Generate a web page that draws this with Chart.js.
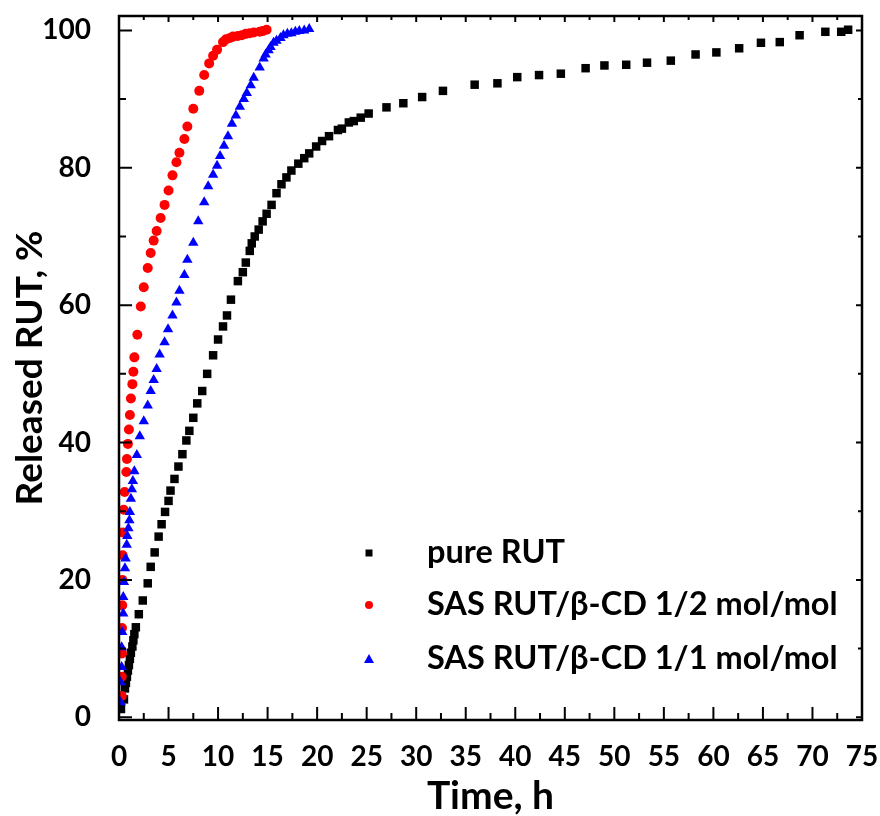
<!DOCTYPE html>
<html>
<head>
<meta charset="utf-8">
<script src="https://cdn.jsdelivr.net/npm/chart.js@4.4.1/dist/chart.umd.min.js"></script>
<style>
  html, body { margin: 0; padding: 0; background: #fff; }
  #wrap { width: 880px; height: 816px; }
</style>
</head>
<body>
<div id="wrap"><canvas id="myChart" width="880" height="816"></canvas></div>
<script>
// release data (time in h, released %)
const pureTime = [0.2, 0.5, 0.6, 0.7, 0.8, 0.9, 1.0, 1.1, 1.2, 1.35, 1.45, 1.55, 1.7, 2.0, 2.4, 2.9, 3.2, 3.6, 4.0, 4.3,
  4.65, 5.0, 5.2, 5.6, 6.0, 6.4, 6.8, 7.1, 7.5, 7.9, 8.4, 8.9, 9.5, 10.0, 10.5, 10.9, 11.3, 12.0, 12.5, 12.8,
  13.2, 13.4, 13.7, 14.1, 14.5, 14.9, 15.4, 15.9, 16.4, 16.9, 17.4, 18.1, 18.7, 19.2, 19.9, 20.5, 21.2, 22.1, 22.5, 23.2,
  23.7, 24.4, 25.2, 27.0, 28.7, 30.6, 32.7, 35.9, 38.2, 40.2, 42.4, 44.6, 47.1, 49.0, 51.2, 53.3, 55.7, 58.2, 60.3, 62.6,
  64.8, 66.7, 68.7, 71.3, 72.9, 73.6];
const pureRel = [1.2, 2.6, 4.2, 5.0, 5.9, 6.8, 7.6, 8.5, 9.4, 10.3, 11.2, 12.1, 13.1, 15.0, 17.0, 19.5, 21.9, 24.0, 26.3, 28.1,
  29.9, 31.5, 33.0, 34.7, 36.5, 38.3, 40.3, 41.7, 43.6, 45.7, 47.5, 50.0, 52.7, 55.0, 56.9, 58.5, 60.8, 63.5, 64.8, 66.2,
  67.9, 69.0, 70.0, 71.0, 72.2, 73.3, 74.6, 76.3, 77.6, 78.6, 79.6, 80.6, 81.4, 82.1, 83.1, 83.9, 84.6, 85.5, 85.7, 86.6,
  86.8, 87.3, 87.9, 88.8, 89.4, 90.3, 91.2, 92.1, 92.3, 93.2, 93.5, 93.7, 94.5, 94.9, 95.0, 95.3, 95.6, 96.5, 96.8, 97.4,
  98.2, 98.3, 99.3, 99.8, 99.8, 100.1];

const sas12Time = [0.28, 0.28, 0.3, 0.3, 0.33, 0.33, 0.37, 0.37, 0.47, 0.57, 0.74, 0.8, 0.9, 1.0, 1.1, 1.2, 1.35, 1.45, 1.55, 1.85,
  2.2, 2.5, 2.9, 3.2, 3.5, 3.8, 4.2, 4.6, 5.0, 5.4, 5.8, 6.1, 6.6, 6.9, 7.5, 8.1, 8.6, 9.1, 9.5, 9.9,
  10.5, 10.8, 11.2, 11.5, 12.0, 12.4, 12.8, 13.2, 13.6, 14.2, 14.5, 14.9];
const sas12Rel = [3.1, 5.9, 9.3, 13.0, 16.3, 20.0, 23.6, 26.9, 30.2, 32.8, 35.7, 37.6, 39.8, 41.9, 44.0, 46.4, 48.5, 50.3, 52.4, 55.7,
  59.8, 62.6, 65.4, 67.6, 69.4, 70.8, 72.7, 74.6, 76.7, 78.9, 80.8, 82.2, 84.2, 86.0, 88.6, 91.2, 93.5, 95.2, 96.3, 97.2,
  98.3, 98.7, 98.9, 99.1, 99.2, 99.3, 99.5, 99.6, 99.7, 99.8, 99.9, 100.1];

const sas11Time = [0.17, 0.17, 0.27, 0.27, 0.33, 0.43, 0.43, 0.5, 0.6, 0.67, 0.78, 0.84, 0.95, 1.05, 1.1, 1.2, 1.3, 1.4, 1.55, 1.8,
  2.1, 2.5, 2.9, 3.2, 3.5, 3.8, 4.1, 4.6, 4.95, 5.4, 5.8, 6.1, 6.6, 6.9, 7.5, 8.0, 8.6, 9.0, 9.5, 9.9,
  10.2, 10.6, 11.0, 11.4, 11.8, 12.2, 12.6, 12.9, 13.3, 13.6, 14.2, 14.6, 14.8, 15.1, 15.3, 15.6, 15.9, 16.3, 16.6, 17.0,
  17.4, 17.8, 18.2, 18.7, 19.2];
const sas11Rel = [2.2, 5.1, 7.3, 10.2, 12.4, 15.1, 17.5, 19.7, 21.7, 23.1, 25.1, 26.4, 27.5, 28.7, 29.9, 31.8, 33.2, 34.4, 35.8, 38.2,
  40.9, 43.1, 45.4, 47.5, 49.1, 50.7, 52.8, 54.6, 56.5, 58.5, 60.4, 62.1, 64.4, 66.6, 69.1, 72.2, 75.0, 77.3, 79.0, 80.3,
  81.7, 83.2, 84.6, 86.4, 87.6, 88.9, 90.0, 90.9, 92.0, 93.1, 94.6, 95.9, 96.5, 97.1, 97.6, 98.2, 98.5, 98.9, 99.3, 99.5,
  99.6, 99.8, 99.9, 100.0, 100.2];

const seriesLabels = ['pure RUT', 'SAS RUT/\u03B2-CD 1/2 mol/mol', 'SAS RUT/\u03B2-CD 1/1 mol/mol'];

const xTicks = [0, 5, 10, 15, 20, 25, 30, 35, 40, 45, 50, 55, 60, 65, 70, 75];
const xMinor = [2.5, 7.5, 12.5, 17.5, 22.5, 27.5, 32.5, 37.5, 42.5, 47.5, 52.5, 57.5, 62.5, 67.5, 72.5];
const yTicks = [0, 20, 40, 60, 80, 100];
const yMinor = [10, 30, 50, 70, 90];

function toPoints(xs, ys) {
  return xs.map((x, i) => ({ x: x, y: ys[i] }));
}

const FONT = 'Lato, "Open Sans", sans-serif';

//frame with inward ticks on all four sides
const framePlugin = {
  id: 'frame',
  afterDraw(chart) {
    const c = chart.ctx;
    const a = chart.chartArea;
    const xs = chart.scales.x, ys = chart.scales.y;
    c.save();
    c.strokeStyle = '#000';
    c.lineWidth = 2.5;
    c.strokeRect(a.left, a.top, a.right - a.left, a.bottom - a.top);
    c.lineWidth = 2;
    c.beginPath();
    function xt(v, len, len2) {
      const p = xs.getPixelForValue(v);
      c.moveTo(p, a.bottom); c.lineTo(p, a.bottom - len);
      c.moveTo(p, a.top); c.lineTo(p, a.top + len2);
    }
    function yt(v, len, len2) {
      const p = ys.getPixelForValue(v);
      c.moveTo(a.left, p); c.lineTo(a.left + len, p);
      c.moveTo(a.right, p); c.lineTo(a.right - len2, p);
    }
    xTicks.forEach(v => xt(v, 13, 6));
    xMinor.forEach(v => xt(v, 7, 4));
    yTicks.forEach(v => yt(v, 13, 6));
    yMinor.forEach(v => yt(v, 7, 4));
    c.stroke();
    c.restore();
  }
};

//legend drawn inside the plot
const legendPlugin = {
  id: 'inLegend',
  afterDraw(chart) {
    const c = chart.ctx;
    const a = chart.chartArea;
    const rows = [a.top + 537, a.top + 589, a.top + 643];
    const mx = a.left + 250;
    const tx = a.left + 308;
    c.save();
    c.font = 'bold 32.5px ' + FONT;
    c.textBaseline = 'middle';
    c.textAlign = 'left';
    chart.data.datasets.forEach((ds, i) => {
      const y = rows[i];
      c.fillStyle = ds.backgroundColor;
      c.beginPath();
      if (ds.pointStyle === 'rect') {
        c.rect(mx - 3.5, y - 3.5, 7, 7);
      } else if (ds.pointStyle === 'circle') {
        c.arc(mx, y, 4, 0, Math.PI * 2);
      } else {
        c.moveTo(mx, y - 5); c.lineTo(mx + 5, y + 4); c.lineTo(mx - 5, y + 4); c.closePath();
      }
      c.fill();
      c.fillStyle = '#000';
      c.fillText(ds.label, tx, y);
    });
    c.restore();
  }
};

const ctx = document.getElementById('myChart');

const myChart = new Chart(ctx, {
  type: 'scatter',
  data: {
    datasets: [
      {
        label: seriesLabels[0],
        data: toPoints(pureTime, pureRel),
        pointStyle: 'rect',
        pointRadius: 6,
        backgroundColor: '#000000',
        borderWidth: 0,
        order: 2
      },
      {
        label: seriesLabels[1],
        data: toPoints(sas12Time, sas12Rel),
        pointStyle: 'circle',
        pointRadius: 5,
        backgroundColor: '#ff0000',
        borderWidth: 0,
        order: 1
      },
      {
        label: seriesLabels[2],
        data: toPoints(sas11Time, sas11Rel),
        pointStyle: 'triangle',
        pointRadius: 6,
        backgroundColor: '#0000ff',
        borderWidth: 0,
        order: 0
      }
    ]
  },
  options: {
    responsive: false,
    animation: false,
    layout: { padding: { left: 0, top: 16, right: 18, bottom: 0 } },
    plugins: {
      legend: { display: false },
      tooltip: { enabled: false }
    },
    scales: {
      x: {
        type: 'linear',
        min: 0,
        max: 75,
        grid: { display: false },
        border: { display: false },
        afterBuildTicks: s => { s.ticks = xTicks.map(v => ({ value: v })); },
        afterFit: s => { s.height = 96; s.paddingLeft = 0; s.paddingRight = 0; },
        ticks: {
          autoSkip: false,
          maxRotation: 0,
          padding: 12,
          color: '#000',
          font: { family: FONT, size: 28, weight: 'bold' }
        },
        title: {
          display: true,
          text: 'Time, h',
          color: '#000',
          padding: { top: 0, bottom: 0 },
          font: { family: FONT, size: 39, weight: 'bold', lineHeight: 1 }
        }
      },
      y: {
        type: 'linear',
        min: -0.4,
        max: 102.1,
        grid: { display: false },
        border: { display: false },
        afterBuildTicks: s => { s.ticks = yTicks.map(v => ({ value: v })); },
        afterFit: s => { s.width = 119; s.paddingTop = 0; s.paddingBottom = 0; },
        ticks: {
          padding: 20,
          color: '#000',
          font: { family: FONT, size: 28, weight: 'bold' }
        },
        title: {
          display: true,
          text: 'Released RUT, %',
          color: '#000',
          padding: { top: 12, bottom: 0 },
          font: { family: FONT, size: 37, weight: 'bold', lineHeight: 1 }
        }
      }
    }
  },
  plugins: [framePlugin, legendPlugin]
});
</script>
</body>
</html>
